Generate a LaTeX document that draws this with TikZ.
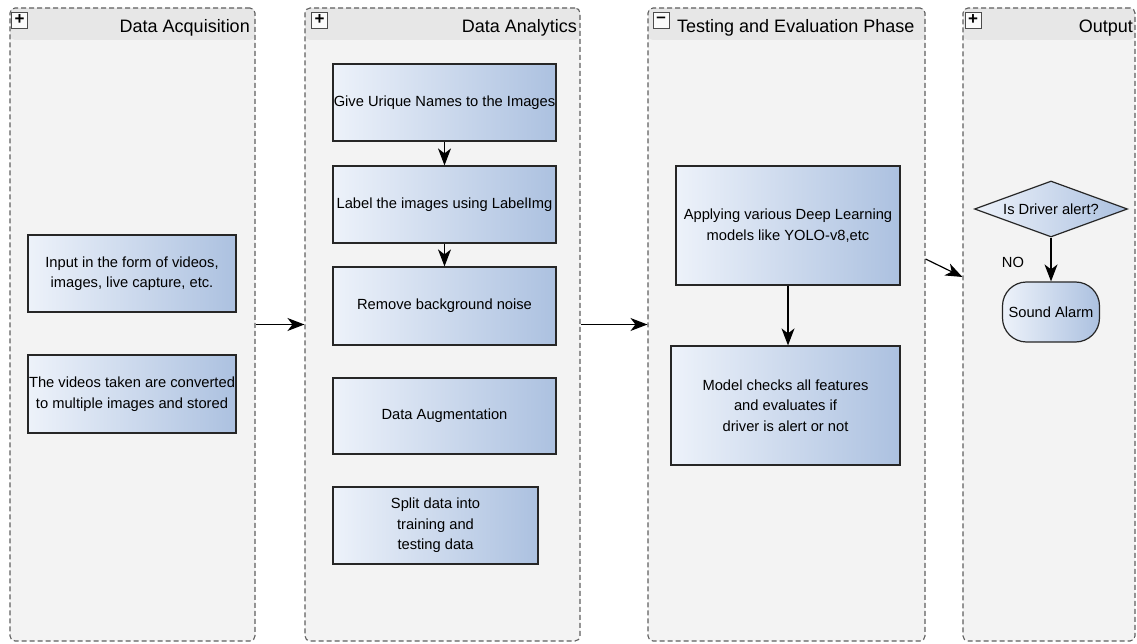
\documentclass[tikz,border=0pt]{standalone}
\usepackage{fontspec}
\setmainfont{Liberation Sans}
\usetikzlibrary{arrows.meta,shapes.geometric}
\definecolor{fondcouloir}{RGB}{243,243,243}
\definecolor{fondtitre}{RGB}{231,231,231}
\definecolor{bordcouloir}{RGB}{95,95,95}
\definecolor{bleuclair}{RGB}{237,242,250}
\definecolor{bleufonce}{RGB}{172,193,224}
\begin{document}
\begin{tikzpicture}[x=1pt,y=-1pt,
	couloir/.style={draw=bordcouloir,line width=1.1pt,dash pattern=on 5pt off 3pt,fill=fondcouloir,
		rounded corners=5pt,minimum height=633pt,inner sep=0pt,
		path picture={\fill[fondtitre] (path picture bounding box.north west) rectangle ([yshift=-32pt]path picture bounding box.north east);}},
	titre/.style={font=\fontsize{18}{20}\selectfont,inner sep=0pt},
	bouton/.style={draw=black!70,fill=white!97!gray,minimum size=16pt,inner sep=0pt,line width=0.8pt,font=\bfseries\fontsize{17}{17}\selectfont},
	etape/.style={draw=black!85,line width=1.2pt,left color=bleuclair,right color=bleufonce,align=center,
		inner sep=0pt,font=\fontsize{14.7}{20.5}\selectfont},
	fleche/.style={line width=1.2pt,-{Stealth[length=17pt,width=13pt,inset=5pt]}}]
	\useasboundingbox (0,0) rectangle (1137,644);
	% les couloirs
	\node[couloir,minimum width=245pt] (acq) at (132.5,324.5) {};
	\node[couloir,minimum width=275pt] (ana) at (442.5,324.5) {};
	\node[couloir,minimum width=277pt] (test) at (786.5,324.5) {};
	\node[couloir,minimum width=172pt] (sortie) at (1049,324.5) {};
	% les titres
	\node[bouton] (acqbouton) at (19.5,20) {+};
	\node[bouton] (anabouton) at (319.5,20) {+};
	\node[bouton] (testbouton) at (661,20) {\raisebox{1pt}{--}};
	\node[bouton] (sortiebouton) at (973,20) {+};
	\node[titre,anchor=base east] (acqtitre) at (250,33) {Data Acquisition};
	\node[titre,anchor=base east] (anatitre) at (577,33) {Data Analytics};
	\node[titre,anchor=base west] (testtitre) at (677,33) {Testing and Evaluation Phase};
	\node[titre,anchor=base east] (sortietitre) at (1133,33) {Output};
	% acquisition
	\node[etape,minimum width=208pt,minimum height=77pt] (entree) at (132,273.5) {Input in the form of videos,\\ images, live capture, etc.};
	\node[etape,minimum width=208pt,minimum height=78pt] (videos) at (132,394) {The videos taken are converted\\ to multiple images and stored};
	% analyse
	\node[etape,minimum width=223pt,minimum height=77pt] (noms) at (444.5,102.5) {Give Urique Names to the Images};
	\node[etape,minimum width=223pt,minimum height=77pt] (etiquette) at (444.5,204.5) {Label the images using LabelImg};
	\node[etape,minimum width=223pt,minimum height=78pt] (bruit) at (444.5,306) {Remove background noise};
	\node[etape,minimum width=223pt,minimum height=76pt] (augment) at (444.5,416) {Data Augmentation};
	\node[etape,minimum width=205pt,minimum height=77pt] (partage) at (435.5,525.5) {Split data into\\ training and\\ testing data};
	\draw[fleche] (noms) -- (etiquette);
	\draw[fleche] (etiquette) -- (bruit);
	% test
	\node[etape,minimum width=224pt,minimum height=119pt] (modeles) at (788,225.5) {Applying various Deep Learning\\ models like YOLO-v8,etc};
	\node[etape,minimum width=229pt,minimum height=119pt] (verif) at (785.5,405.5) {Model checks all features\\ and evaluates if\\ driver is alert or not};
	\draw[fleche] (modeles.south) -- (modeles.south |- verif.north);
	% sortie
	\node[etape,shape=diamond,shape aspect=2.7,minimum width=153pt,minimum height=56pt] (alerte) at (1051,209) {Is Driver alert?};
	\node[etape,rounded corners=24pt,minimum width=97pt,minimum height=60pt] (alarme) at (1051,312) {Sound Alarm};
	\draw[fleche] (alerte) -- (alarme);
	\node[font=\fontsize{14.7}{16}\selectfont] (non) at (1013,262) {NO};
	% liens entre couloirs
	\draw[fleche] (acq.east) -- (ana.west);
	\draw[fleche] (ana.east) -- (test.west);
	\draw[fleche] ([yshift=65.5pt]test.east) -- ([yshift=47.5pt]sortie.west);
\end{tikzpicture}
\end{document}
